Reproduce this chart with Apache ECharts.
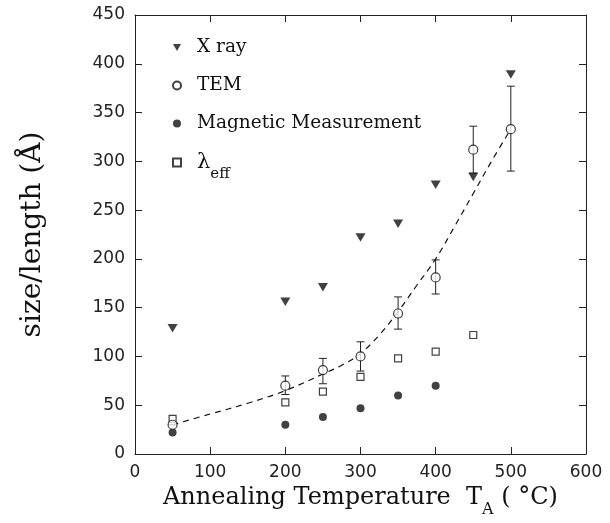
<!DOCTYPE html>
<html>
<head>
<meta charset="utf-8">
<script src="https://cdn.jsdelivr.net/npm/echarts@6/dist/echarts.min.js"></script>
<style>
  html, body { margin: 0; padding: 0; background: #fff; }
  #chart { width: 610px; height: 523px; }
</style>
</head>
<body>
<div id="chart"></div>
<script>
  // annealing temperatures (°C)
  var xrayTemp = [50, 200, 250, 300, 350, 400, 450, 500];
  var xraySize = [129, 156, 171, 222, 236, 276, 284, 389];

  var temTemp = [50, 200, 250, 300, 350, 400, 450, 500];
  var temSize = [30, 70, 86, 100, 144, 181, 312, 333];
  var temErrLow = [30, 61, 72, 85, 128, 164, 288, 290];
  var temErrHigh = [30, 80, 98, 115, 161, 199, 336, 377];

  var magTemp = [50, 200, 250, 300, 350, 400];
  var magSize = [22, 30, 38, 47, 60, 70];

  var lamTemp = [50, 200, 250, 300, 350, 400, 450];
  var lamSize = [36, 53, 64, 79, 98, 105, 122];

  // dashed guide curve through the TEM data
  var fitTemp = [50, 100, 150, 200, 250, 275, 300, 325, 350, 375, 400, 425, 450, 475, 500];
  var fitSize = [30, 41, 52, 65, 82, 91, 103, 122, 146, 173, 200, 233, 267, 301, 333];

  function pairs(xs, ys) {
    return xs.map(function (x, i) { return [x, ys[i]]; });
  }

  var serif = 'DejaVu Serif';
  var sans = 'DejaVu Sans';
  var downTri = 'path://M0,0 L10,0 L5,8.5 Z';

  var chart = echarts.init(document.getElementById('chart'));

  var axisLine = { show: true, onZero: false, lineStyle: { color: '#222', width: 1 } };
  var axisTick = { show: true, inside: true, length: 7, lineStyle: { color: '#222', width: 1 } };

  var option = {
    backgroundColor: '#fff',
    animation: false,
    grid: { left: 135, right: 24, top: 15, bottom: 69 },
    legend: {
      orient: 'vertical',
      left: 167,
      top: 33,
      itemWidth: 8,
      itemHeight: 8,
      itemGap: 19,
      data: ['X ray', 'TEM', 'Magnetic Measurement', 'lambda'],
      textStyle: {
        fontFamily: serif,
        fontSize: 18.5,
        color: '#111',
        padding: [0, 0, 0, 11],
        rich: {
          l: { fontFamily: serif, fontSize: 21, color: '#111' },
          s: { fontFamily: serif, fontSize: 15, color: '#111', verticalAlign: 'top', padding: [24, 0, 0, 0] }
        }
      },
      formatter: function (name) {
        if (name === 'lambda') return '{l|λ}{s|eff}';
        return name;
      }
    },
    xAxis: [{
      type: 'value',
      min: 0, max: 600, interval: 100,
      axisLine: axisLine,
      axisTick: axisTick,
      splitLine: { show: false },
      axisLabel: { fontFamily: sans, fontSize: 17, color: '#222', margin: 10 },
      name: '{n|Annealing Temperature  T}{s|A}{n| ( °C)}',
      nameLocation: 'middle',
      nameGap: 22,
      nameTextStyle: {
        rich: {
          n: { fontFamily: serif, fontSize: 24, color: '#111' },
          s: { fontFamily: serif, fontSize: 16, color: '#111', verticalAlign: 'top', padding: [24, 0, 0, 0] }
        }
      }
    }, {
      type: 'value',
      position: 'top',
      min: 0, max: 600, interval: 100,
      axisLine: axisLine,
      axisTick: axisTick,
      splitLine: { show: false },
      axisLabel: { show: false }
    }],
    yAxis: [{
      type: 'value',
      min: 0, max: 450, interval: 50,
      axisLine: axisLine,
      axisTick: axisTick,
      splitLine: { show: false },
      axisLabel: { fontFamily: sans, fontSize: 17, color: '#222', margin: 10 },
      name: 'size/length (Å)',
      nameLocation: 'middle',
      nameGap: 88,
      nameTextStyle: { fontFamily: serif, fontSize: 28, color: '#111' }
    }, {
      type: 'value',
      position: 'right',
      min: 0, max: 450, interval: 50,
      axisLine: axisLine,
      axisTick: axisTick,
      splitLine: { show: false },
      axisLabel: { show: false }
    }],
    series: [{
      name: 'fit',
      type: 'line',
      smooth: 0.4,
      showSymbol: false,
      symbol: 'none',
      data: pairs(fitTemp, fitSize),
      lineStyle: { color: '#111', width: 1.2, type: [6, 5] },
      z: 1
    }, {
      name: 'err',
      type: 'custom',
      data: temTemp.map(function (t, i) { return [t, temErrLow[i], temErrHigh[i]]; }),
      renderItem: function (params, api) {
        var lo = api.coord([api.value(0), api.value(1)]);
        var hi = api.coord([api.value(0), api.value(2)]);
        var w = 4;
        return {
          type: 'group',
          children: [
            { type: 'line', shape: { x1: lo[0], y1: lo[1], x2: hi[0], y2: hi[1] }, style: { stroke: '#222', lineWidth: 1 } },
            { type: 'line', shape: { x1: lo[0] - w, y1: lo[1], x2: lo[0] + w, y2: lo[1] }, style: { stroke: '#222', lineWidth: 1 } },
            { type: 'line', shape: { x1: hi[0] - w, y1: hi[1], x2: hi[0] + w, y2: hi[1] }, style: { stroke: '#222', lineWidth: 1 } }
          ]
        };
      },
      z: 2
    }, {
      name: 'X ray',
      type: 'scatter',
      symbol: downTri,
      symbolSize: [10, 8.5],
      data: pairs(xrayTemp, xraySize),
      itemStyle: { color: '#111' },
      z: 3
    }, {
      name: 'TEM',
      type: 'scatter',
      symbol: 'circle',
      symbolSize: 9,
      data: pairs(temTemp, temSize),
      itemStyle: { color: '#fff', borderColor: '#111', borderWidth: 1.2 },
      z: 4
    }, {
      name: 'Magnetic Measurement',
      type: 'scatter',
      symbol: 'circle',
      symbolSize: 8,
      data: pairs(magTemp, magSize),
      itemStyle: { color: '#111' },
      z: 3
    }, {
      name: 'lambda',
      type: 'scatter',
      symbol: 'rect',
      symbolSize: 7,
      data: pairs(lamTemp, lamSize),
      itemStyle: { color: '#fff', borderColor: '#111', borderWidth: 1.2 },
      z: 3
    }]
  };

  chart.setOption(option);
</script>
</body>
</html>
